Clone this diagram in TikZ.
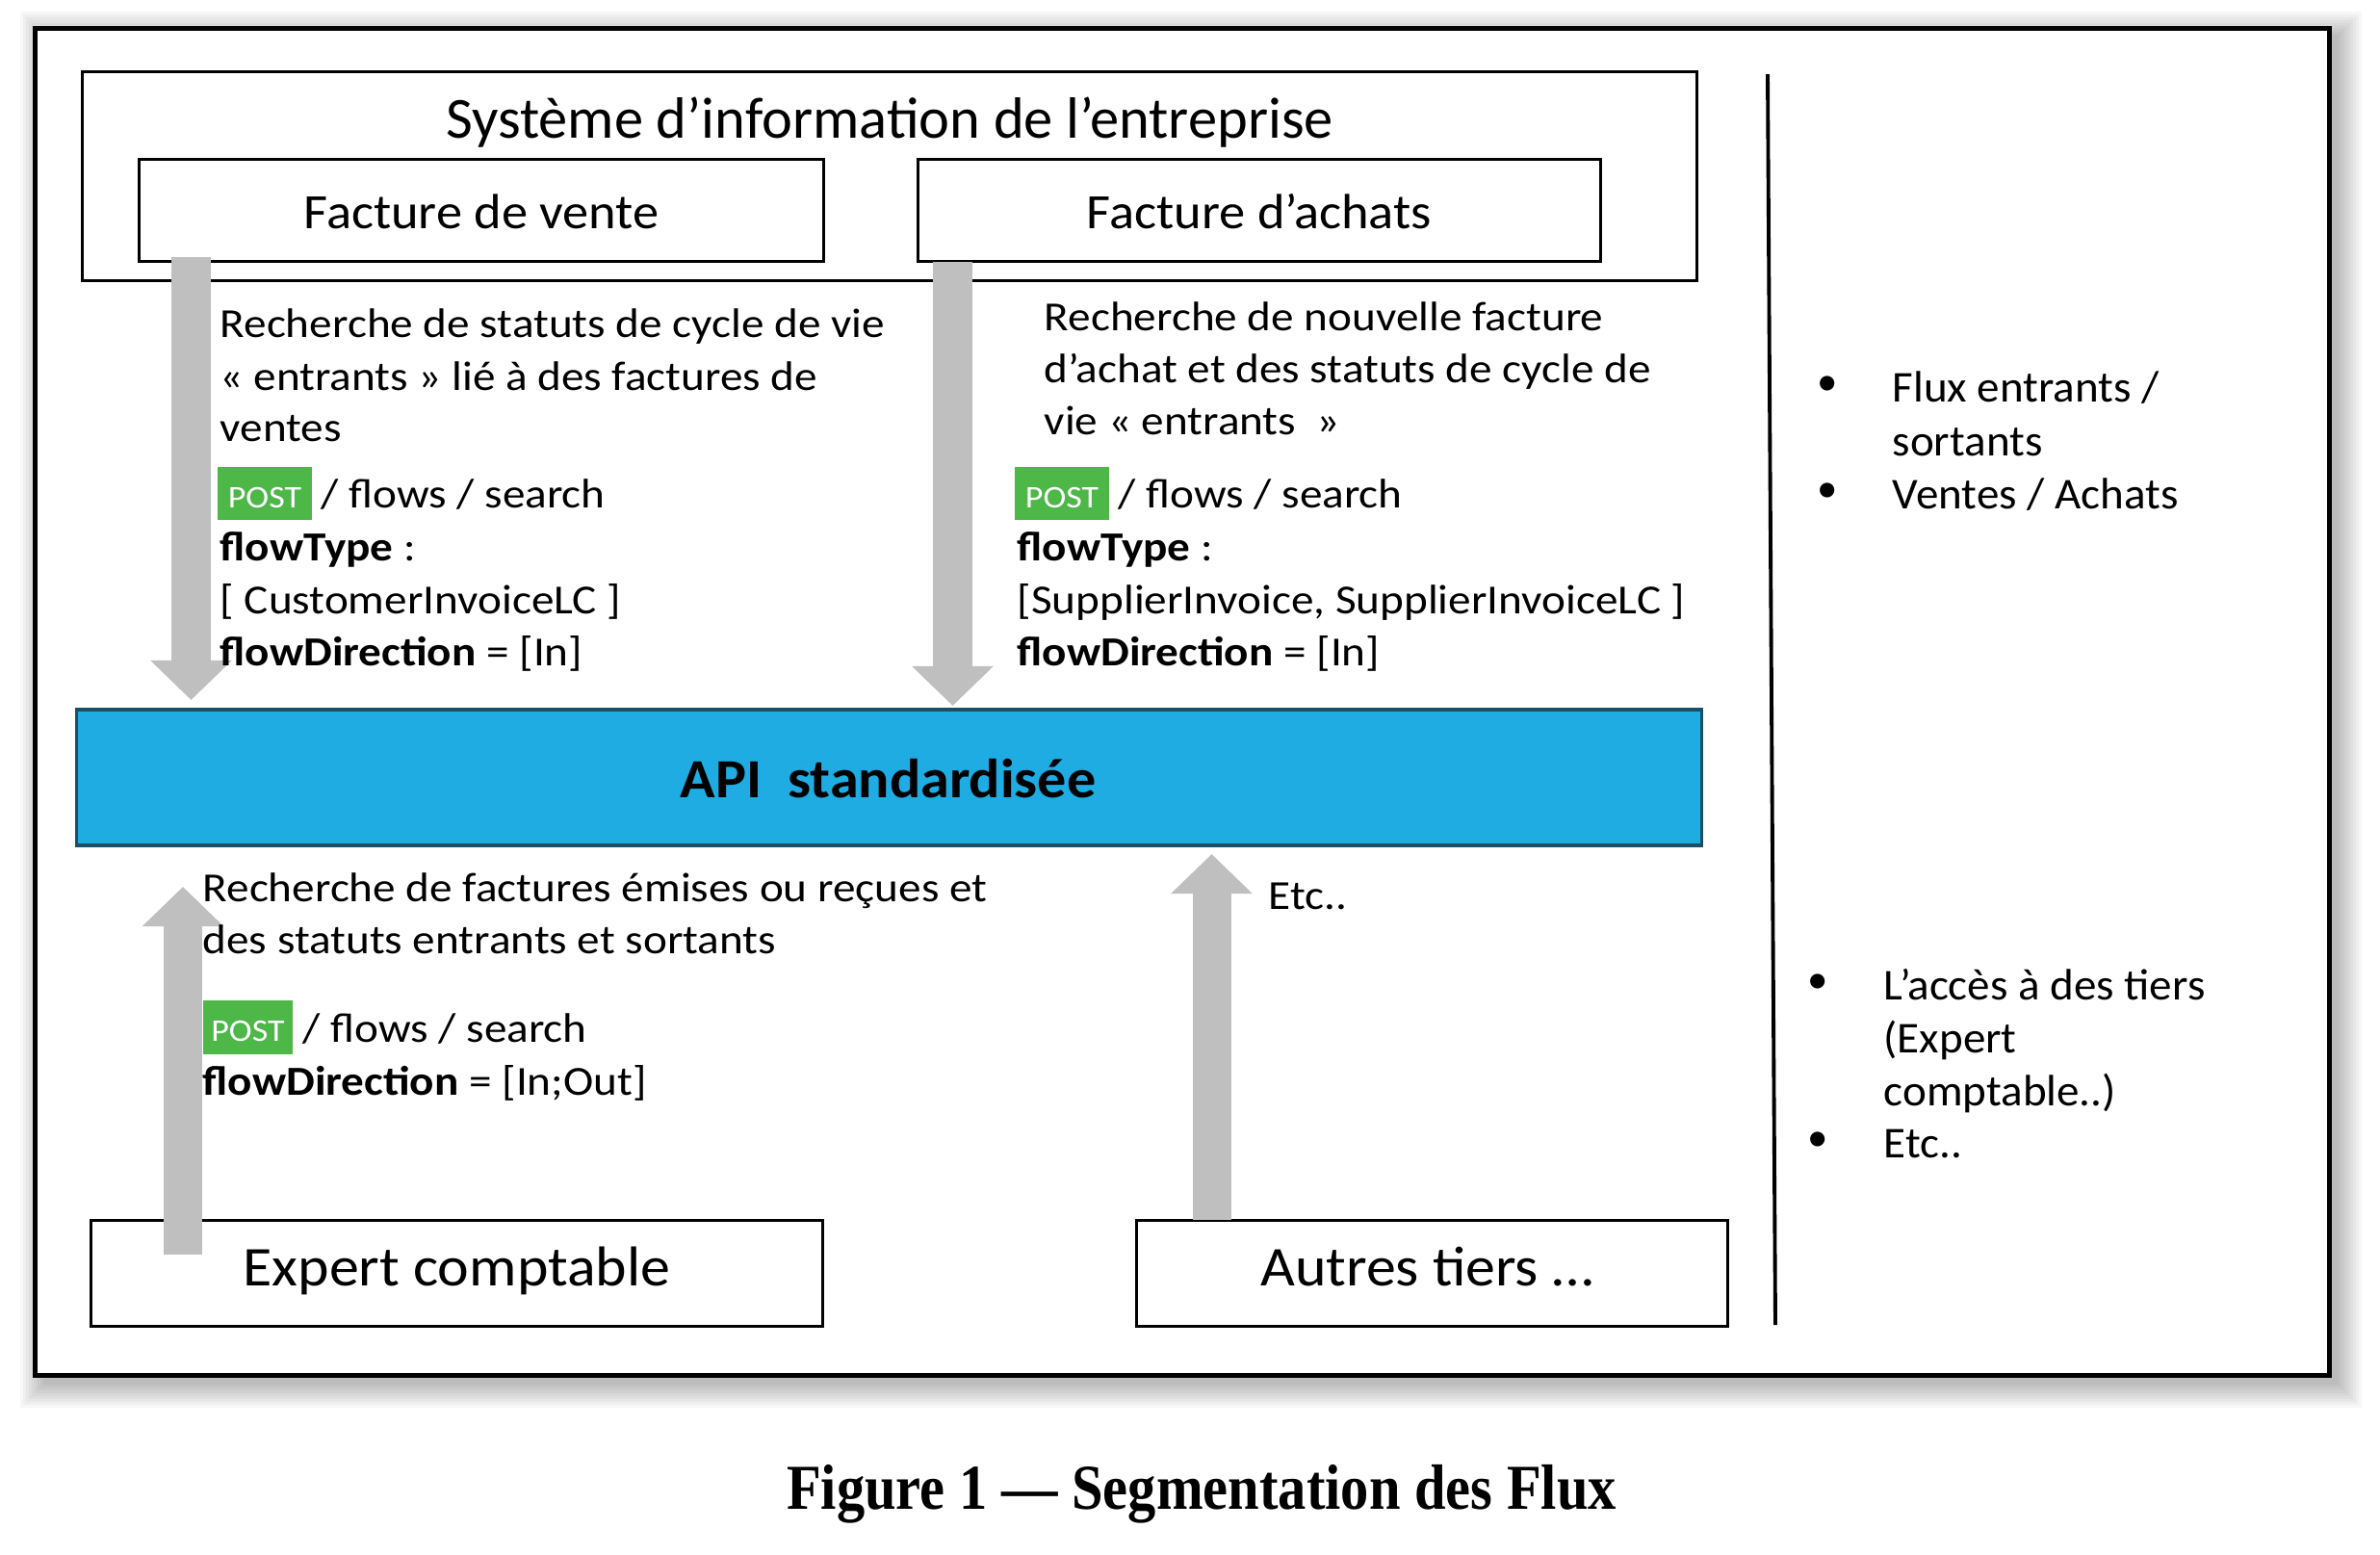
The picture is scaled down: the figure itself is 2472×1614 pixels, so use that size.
\documentclass[tikz,border=0pt]{standalone}
\usepackage{fontspec}
\setmainfont{Carlito}
\newfontfamily\bodyfont{Carlito}[FakeStretch=1.10]
\newfontfamily\labelfont{Carlito}[FakeStretch=1.06]
\newfontfamily\apifont{Carlito}[FakeStretch=1.05]
\newfontfamily\rightfont{Carlito}[FakeStretch=1.03]
\newfontfamily\capfont{Liberation Serif}[FakeStretch=0.88]
\usetikzlibrary{arrows.meta}
\definecolor{apiblue}{HTML}{1EACE3}
\definecolor{apiborder}{HTML}{1A4F66}
\definecolor{postgreen}{HTML}{4DB748}
\definecolor{arrowgray}{HTML}{BFBFBF}
\begin{document}
\begin{tikzpicture}[x=0.01cm,y=-0.01cm,
  box/.style={draw=black, line width=0.85pt, fill=white, inner sep=0pt},
  txt/.style={anchor=base west, inner sep=0pt, font=\bodyfont\fontsize{12.2}{14}\selectfont},
  ctxt/.style={anchor=base, inner sep=0pt},
  postbox/.style={fill=postgreen, text=white, inner sep=0pt, text height=8.25pt, text depth=0pt, font=\bodyfont\fontsize{9.3}{10}\selectfont},
  blockarrow/.style={draw=arrowgray, line width=0.40cm, -{Triangle[length=0.41cm,width=0.82cm]}},
  bullet/.style={anchor=center, inner sep=0pt, font=\fontsize{12.2}{14}\selectfont},
  rtxt/.style={anchor=base west, inner sep=0pt, font=\rightfont\fontsize{13}{14}\selectfont}
]
\useasboundingbox (0,0) rectangle (2472,1614);
\fill[white] (0,0) rectangle (2472,1614);
% shadow of the outer frame
\foreach \r in {0,3,...,24}{
  \fill[black, opacity=0.03] (37+8-\r,30+6-\r) rectangle (2419+10+\r,1428+10+\r);
}
\node[draw=black, line width=1.4pt, fill=white, inner sep=0pt, minimum width=23.82cm, minimum height=13.98cm] (outer) at (1228,729) {};

% enterprise information system
\node[box, minimum width=16.76cm, minimum height=2.16cm] (sys) at (924,183) {};
\node[ctxt, font=\fontsize{17.2}{20}\selectfont] (systitle) at (924,143) {Système d’information de l’entreprise};
\node[box, minimum width=7.10cm, minimum height=1.05cm] (vente) at (500,218.5) {};
\node[ctxt, font=\labelfont\fontsize{14.6}{17}\selectfont] (ventetxt) at (500,237) {Facture de vente};
\node[box, minimum width=7.08cm, minimum height=1.05cm] (achats) at (1308,218.5) {};
\node[ctxt, font=\labelfont\fontsize{14.6}{17}\selectfont] (achatstxt) at (1308,237) {Facture d’achats};

% API
\node[fill=apiblue, draw=apiborder, line width=1pt, inner sep=0pt, minimum width=16.87cm, minimum height=1.41cm] (api) at (923.5,807.5) {};
\node[ctxt, font=\apifont\bfseries\fontsize{16.3}{18}\selectfont] (apitxt) at (922.5,828) {API\ \ standardisée};

% third parties
\node[box, minimum width=7.59cm, minimum height=1.09cm] (expert) at (474.5,1322.5) {};
\node[ctxt, font=\labelfont\fontsize{16.6}{19}\selectfont] (experttxt) at (474.5,1335) {Expert comptable};
\node[box, minimum width=6.13cm, minimum height=1.09cm] (autres) at (1487.5,1322.5) {};
\node[ctxt, font=\labelfont\fontsize{16.6}{19}\selectfont] (autrestxt) at (1482,1335) {Autres tiers …};

% separator
\coordinate (sepTop) at (1836,77);
\coordinate (sepBot) at (1844,1376);
\draw[line width=1.1pt] (sepTop) -- (sepBot);

% arrows
\coordinate (a1s) at (198.5,267);  \coordinate (a1e) at (198.5,727);
\coordinate (a2s) at (989.5,272);  \coordinate (a2e) at (989.5,733);
\coordinate (a3s) at (190,1303);   \coordinate (a3e) at (190,921);
\coordinate (a4s) at (1258.5,1267);\coordinate (a4e) at (1258.5,887);
\draw[blockarrow] (a1s) -- (a1e);
\draw[blockarrow] (a2s) -- (a2e);
\draw[blockarrow] (a3s) -- (a3e);
\draw[blockarrow] (a4s) -- (a4e);

% block 1
\node[txt] (b1a) at (228,350) {Recherche de statuts de cycle de vie};
\node[txt] (b1b) at (228,405) {« entrants » lié à des factures de};
\node[txt] (b1c) at (228,458) {ventes};
\node[postbox, minimum width=0.98cm, minimum height=0.55cm] (post1) at (275,512.5) {POST};
\node[txt] (b1d) at (333,527) {/ flows / search};
\node[txt] (b1e) at (228,582) {\textbf{flowType} :};
\node[txt] (b1f) at (228,637) {[ CustomerInvoiceLC ]};
\node[txt] (b1g) at (228,691) {\textbf{flowDirection} = [In]};

% block 2
\node[txt] (b2a) at (1084,343) {Recherche de nouvelle facture};
\node[txt] (b2b) at (1084,397) {d’achat et des statuts de cycle de};
\node[txt] (b2c) at (1084,451) {vie « entrants\ \ »};
\node[postbox, minimum width=0.98cm, minimum height=0.55cm] (post2) at (1103,512.5) {POST};
\node[txt] (b2d) at (1161,527) {/ flows / search};
\node[txt] (b2e) at (1056,582) {\textbf{flowType} :};
\node[txt] (b2f) at (1056,637) {[SupplierInvoice, SupplierInvoiceLC ]};
\node[txt] (b2g) at (1056,691) {\textbf{flowDirection} = [In]};

% block 3
\node[txt] (b3a) at (210,936) {Recherche de factures émises ou reçues et};
\node[txt] (b3b) at (210,990) {des statuts entrants et sortants};
\node[postbox, minimum width=0.93cm, minimum height=0.56cm] (post3) at (257.5,1067) {POST};
\node[txt] (b3d) at (314,1082) {/ flows / search};
\node[txt] (b3g) at (210,1137) {\textbf{flowDirection} = [In;Out]};

\node[txt] (etc) at (1317,944) {Etc..};

% right column
\node[bullet] (r1) at (1898,401) {•};
\node[rtxt] (r1a) at (1965,417) {Flux entrants /};
\node[rtxt] (r1b) at (1965,473) {sortants};
\node[bullet] (r2) at (1898,512) {•};
\node[rtxt] (r2a) at (1965,528) {Ventes / Achats};
\node[bullet] (r3) at (1888,1022) {•};
\node[rtxt] (r3a) at (1956,1038) {L’accès à des tiers};
\node[rtxt] (r3b) at (1956,1093) {(Expert};
\node[rtxt] (r3c) at (1956,1148) {comptable..)};
\node[bullet] (r4) at (1888,1186) {•};
\node[rtxt] (r4a) at (1956,1202) {Etc..};

% caption
\node[ctxt, font=\capfont\bfseries\fontsize{18.9}{22}\selectfont] (caption) at (1248,1567) {Figure 1 — Segmentation des Flux};
\end{tikzpicture}
\end{document}
